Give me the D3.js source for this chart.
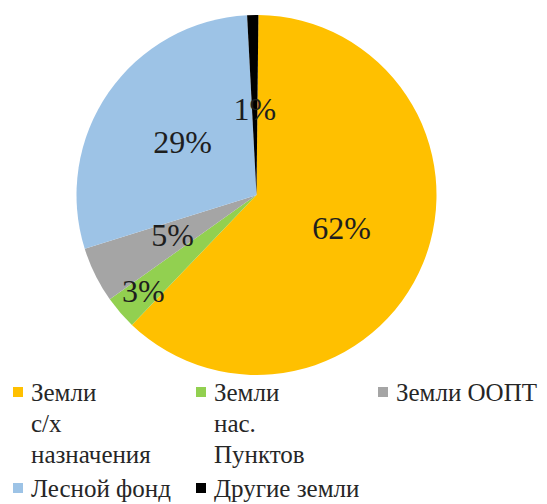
<!DOCTYPE html>
<html>
<head>
<meta charset="utf-8">
<script src="https://cdn.jsdelivr.net/npm/d3@7"></script>
</head>
<body style="margin:0">
<svg id="chart" width="547" height="504" font-family="Liberation Serif"></svg>
<script>
// Land fund structure by category, percent
const categories = ["Земли с/х назначения", "Земли нас. Пунктов", "Земли ООПТ", "Лесной фонд", "Другие земли"];
const shares = [62, 3, 5, 29, 1];
const colors = ["#FFC000", "#92D050", "#A5A5A5", "#9DC3E6", "#000000"];
// legend entries split into the lines they are printed on
const legendLines = [
  ["Земли", "с/х", "назначения"],
  ["Земли", "нас.", "Пунктов"],
  ["Земли ООПТ"],
  ["Лесной фонд"],
  ["Другие земли"]
];

const svg = d3.select("#chart");
const cx = 256.5, cy = 195, R = 180;

const rot = 0.6 * Math.PI / 180; // first slice rotated slightly past twelve o'clock
const pie = d3.pie().sort(null).value(d => d)
  .startAngle(rot).endAngle(2 * Math.PI + rot);
const arcs = pie(shares);

const arc = d3.arc().innerRadius(0).outerRadius(R);

const g = svg.append("g").attr("transform", `translate(${cx},${cy})`);

g.selectAll("path.slice")
  .data(arcs)
  .join("path")
  .attr("class", "slice")
  .attr("d", arc)
  .attr("fill", (d, i) => colors[i]);

// data labels: most sit near half radius, the narrow 3% one is pushed outward
const labelRadius = [0.51, 0.83, 0.52, 0.5, 0.47];

g.selectAll("text.value")
  .data(arcs)
  .join("text")
  .attr("class", "value")
  .attr("transform", (d, i) => {
    const r = R * labelRadius[i];
    const c = d3.arc().innerRadius(r).outerRadius(r).centroid(d);
    return `translate(${c[0]},${c[1]})`;
  })
  .attr("text-anchor", "middle")
  .attr("dy", "0.3em")
  .attr("font-size", 32)
  .attr("fill", "#1e1e1e")
  .text(d => d.data + "%");

// legend
const legendCols = [13, 196, 378];
const legendRows = [401, 497];
const lineStep = 31;
const legend = svg.append("g");
legendLines.forEach((lines, i) => {
  const col = i < 3 ? i : i - 3;
  const row = i < 3 ? 0 : 1;
  const x = legendCols[col], y = legendRows[row];
  const item = legend.append("g");
  item.append("rect")
    .attr("x", x).attr("y", y - 14)
    .attr("width", 10).attr("height", 10)
    .attr("fill", colors[i]);
  const t = item.append("text")
    .attr("x", x + 18).attr("y", y)
    .attr("font-size", 25)
    .attr("fill", "#262626");
  lines.forEach((ln, k) => {
    t.append("tspan").attr("x", x + 18).attr("y", y + k * lineStep).text(ln);
  });
});
</script>
</body>
</html>
